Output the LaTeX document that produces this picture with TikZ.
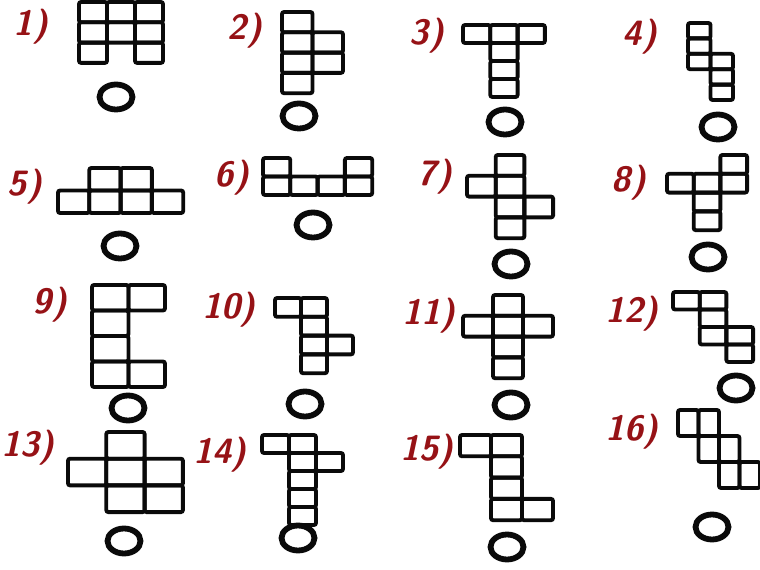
\documentclass[tikz,border=0pt]{standalone}
\usepackage{xcolor}
\usepackage{tikz}
\usetikzlibrary{positioning,shapes.geometric}
\definecolor{nInk}{RGB}{ 10, 10, 10}
\definecolor{nRed}{RGB}{150, 18, 22}

% one net: origin x, origin y, cell width, cell height, list col/row
\newcommand{\drawnet}[5]{%
  \begin{scope}[shift={(#1,#2)}]
    \foreach \c/\r in {#5}
      \draw[cell] ({\c*#3},{\r*#4}) rectangle ++(#3,#4);
  \end{scope}}

\begin{document}
\begin{tikzpicture}[
  x=0.02cm,y=-0.02cm,
  cell/.style={draw=nInk,line width=2.2pt,rounded corners=1.2pt},
  num/.style={font=\fontsize{20}{20}\selectfont\sffamily\bfseries\slshape,
              text=nRed,inner sep=0pt},
  ring/.style={ellipse,draw=nInk,line width=3.3pt,inner sep=0pt,
               minimum width=0.66cm,minimum height=0.5cm}
]
\useasboundingbox (0,0) rectangle (760,570);

% --- Row 1
\node[num] (lA) at (31,27) {1)};
\drawnet{79}{2}{28}{20.3}{0/0,1/0,2/0,0/1,1/1,2/1,0/2,2/2}
\node[ring] (oA) at (116,97) {};

\node[num] (lB) at (245,31) {2)};
\drawnet{282}{12}{30.5}{20.3}{0/0,0/1,1/1,0/2,1/2,0/3}
\node[ring] (oB) at (299,116) {};

\node[num] (lC) at (427,36) {3)};
\drawnet{463}{25}{27.3}{18}{0/0,1/0,2/0,1/1,1/2,1/3}
\node[ring] (oC) at (505,122) {};

\node[num] (lD) at (640,37) {4)};
\drawnet{688}{23}{22.5}{15.4}{0/0,0/1,0/2,1/2,1/3,1/4}
\node[ring] (oD) at (718,127) {};

% --- Row 2
\node[num] (lE) at (25,187) {5)};
\drawnet{58}{168}{31.3}{22.5}{1/0,2/0,0/1,1/1,2/1,3/1}
\node[ring] (oE) at (120,246) {};

\node[num] (lF) at (232,178) {6)};
\drawnet{263}{158}{27.3}{18.5}{0/0,3/0,0/1,1/1,2/1,3/1}
\node[ring] (oF) at (313,225) {};

\node[num] (lG) at (435,177) {7)};
\drawnet{467}{155}{28.7}{20.8}{1/0,0/1,1/1,1/2,2/2,1/3}
\node[ring] (oG) at (511,264) {};

\node[num] (lH) at (629,183) {8)};
\drawnet{667}{155}{26.7}{18.8}{2/0,0/1,1/1,2/1,1/2,1/3}
\node[ring] (oH) at (708,257) {};

% --- Row 3
\node[num] (lI) at (50,305) {9)};
\drawnet{92}{285}{36.5}{25.5}{0/0,1/0,0/1,0/2,0/3,1/3}
\node[ring] (oI) at (128,408) {};

\node[num] (lJ) at (229,310) {10)};
\drawnet{275}{298}{26}{18.8}{0/0,1/0,1/1,1/2,2/2,1/3}
\node[ring] (oJ) at (305,404) {};

\node[num] (lK) at (429,316) {11)};
\drawnet{463}{295}{30}{20.8}{1/0,0/1,1/1,2/1,1/2,1/3}
\node[ring] (oK) at (511,405) {};

\node[num] (lL) at (632,314) {12)};
\drawnet{673}{292}{26.7}{17.5}{0/0,1/0,1/1,1/2,2/2,2/3}
\node[ring] (oL) at (736,388) {};

% --- Row 4
\node[num] (lM) at (28,448) {13)};
\drawnet{68}{432}{38.3}{26.7}{1/0,0/1,1/1,2/1,1/2,2/2}
\node[ring] (oM) at (124,541) {};

\node[num] (lN) at (220,455) {14)};
\drawnet{262}{435}{27}{18}{0/0,1/0,1/1,2/1,1/2,1/3,1/4}
\node[ring] (oN) at (298,538) {};

\node[num] (lO) at (427,452) {15)};
\drawnet{460}{435}{31}{21.3}{0/0,1/0,1/1,1/2,1/3,2/3}
\node[ring] (oO) at (507,547) {};

\node[num] (lP) at (632,432) {16)};
\drawnet{678}{410}{20.5}{26}{0/0,1/0,1/1,2/1,2/2,3/2}
\node[ring] (oP) at (712,527) {};
\end{tikzpicture}
\end{document}
